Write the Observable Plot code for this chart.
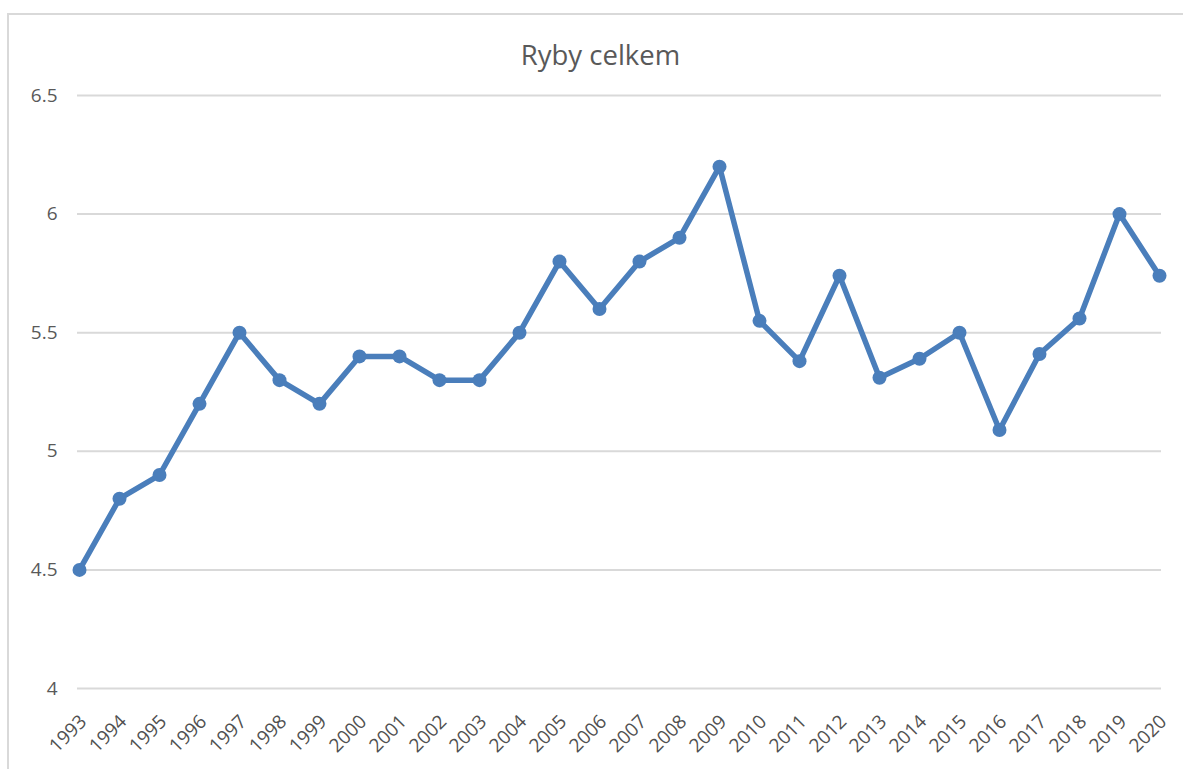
<!DOCTYPE html>
<html>
<head>
<meta charset="utf-8">
<script src="https://cdn.jsdelivr.net/npm/d3@7"></script>
<script src="https://cdn.jsdelivr.net/npm/@observablehq/plot@0.6"></script>
<style>
  html, body { margin: 0; padding: 0; background: #fff; }
  #wrap { position: relative; width: 1183px; height: 769px; overflow: hidden; }
  #frame { position: absolute; left: 7px; top: 13px; right: -10px; bottom: -10px;
           border-top: 2px solid #d9d9d9; border-left: 2px solid #d9d9d9; }
  #title { position: absolute; left: 0; width: 1201px; top: 36px; text-align: center;
           font-family: "Open Sans", sans-serif; font-size: 27.5px; color: #595959; }
  #chart { position: absolute; left: 0; top: 0; }
</style>
</head>
<body>
<div id="wrap">
  <div id="frame"></div>
  <div id="chart"></div>
  <div id="title">Ryby celkem</div>
</div>
<script>
const years = ["1993","1994","1995","1996","1997","1998","1999","2000","2001","2002","2003","2004","2005","2006","2007","2008","2009","2010","2011","2012","2013","2014","2015","2016","2017","2018","2019","2020"];
const values = [4.5,4.8,4.9,5.2,5.5,5.3,5.2,5.4,5.4,5.3,5.3,5.5,5.8,5.6,5.8,5.9,6.2,5.55,5.38,5.74,5.31,5.39,5.5,5.09,5.41,5.56,6.0,5.74];
const yTicks = [4,4.5,5,5.5,6,6.5];
const yTickLabels = ["4","4.5","5","5.5","6","6.5"];

const data = years.map((y, i) => ({year: y, value: values[i]}));
const color = "#4a7ebb";

const chart = Plot.plot({
  width: 1183,
  height: 769,
  marginLeft: 77,
  marginRight: 22,
  marginTop: 95,
  marginBottom: 81,
  style: {fontFamily: "'Open Sans', sans-serif", fontSize: "19px", color: "#595959", background: "transparent"},
  x: {type: "point", domain: years, padding: 0, label: null, axis: null},
  y: {domain: [4, 6.5], label: null},
  marks: [
    Plot.ruleY(yTicks, {stroke: "#d9d9d9", strokeWidth: 2}),
    Plot.axisY(yTicks, {tickSize: 0, tickPadding: 20, tickFormat: (d, i) => yTickLabels[i], fontSize: 19, fill: "#595959"}),
    Plot.text(years, {x: d => d, frameAnchor: "bottom", dy: 30, dx: 4, rotate: -45, textAnchor: "end", lineAnchor: "middle", fontSize: 19, fill: "#505050"}),
    Plot.line(data, {x: "year", y: "value", stroke: color, strokeWidth: 5.5, strokeLinejoin: "round"}),
    Plot.dot(data, {x: "year", y: "value", fill: color, r: 7})
  ]
});
document.getElementById("chart").appendChild(chart);
</script>
</body>
</html>
